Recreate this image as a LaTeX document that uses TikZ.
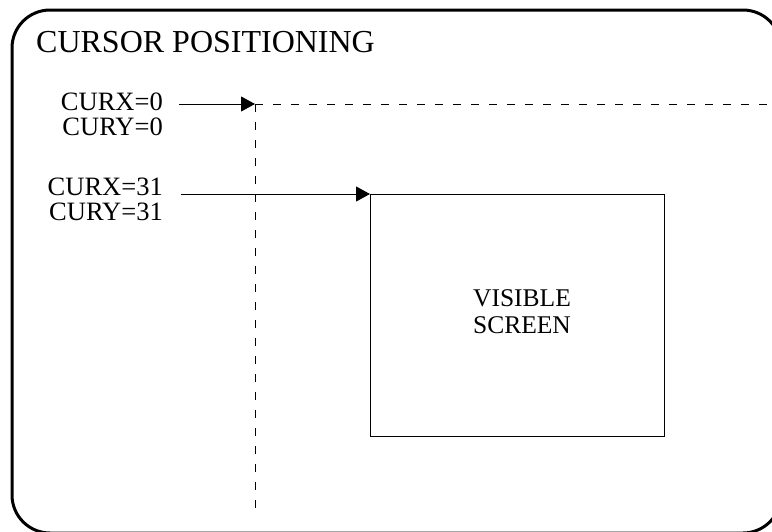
\documentclass[tikz,border=0pt]{standalone}
\usepackage{fontspec}
\setmainfont{Liberation Serif}
\usetikzlibrary{arrows.meta}
\begin{document}
\begin{tikzpicture}[x=1pt,y=-1pt,
  lbl/.style={inner sep=0pt, align=right, font=\fontsize{26.5}{25}\selectfont},
  ptr/.style={line width=1pt, -{Triangle[length=14pt,width=15pt]}},
  guide/.style={line width=1pt, dash pattern=on 8pt off 10pt},
  frame/.style={line width=3pt, rounded corners=38pt}]
\useasboundingbox (0,0) rectangle (772,531);
\clip (0,0) rectangle (772,531);
\draw[frame] (12,10) rectangle (781,533);
\node[inner sep=0pt, anchor=base west, font=\fontsize{32}{36}\selectfont] (title) at (36,52) {CURSOR POSITIONING};
\node[lbl, anchor=base east] (l1) at (163,135) {CURX=0\\CURY=0};
\node[lbl, anchor=base east] (l2) at (163,220) {CURX=31\\CURY=31};
\coordinate (o) at (255,104);
\coordinate (oright) at (772,104);
\coordinate (obottom) at (255,508);
\coordinate (a1) at (179,104);
\coordinate (a2) at (181,194);
\node[draw, line width=1pt, minimum width=294pt, minimum height=242pt, anchor=north west, inner sep=0pt] (scr) at (370,194) {};
\node[inner sep=0pt, align=center, font=\fontsize{25.5}{27}\selectfont, anchor=base] (scrtext) at (522,333) {VISIBLE\\SCREEN};
\draw[guide] (o) -- (oright);
\draw[guide] (o) -- (obottom);
\draw[ptr] (a1) -- (o);
\draw[ptr] (a2) -- (scr.north west);
\end{tikzpicture}
\end{document}
